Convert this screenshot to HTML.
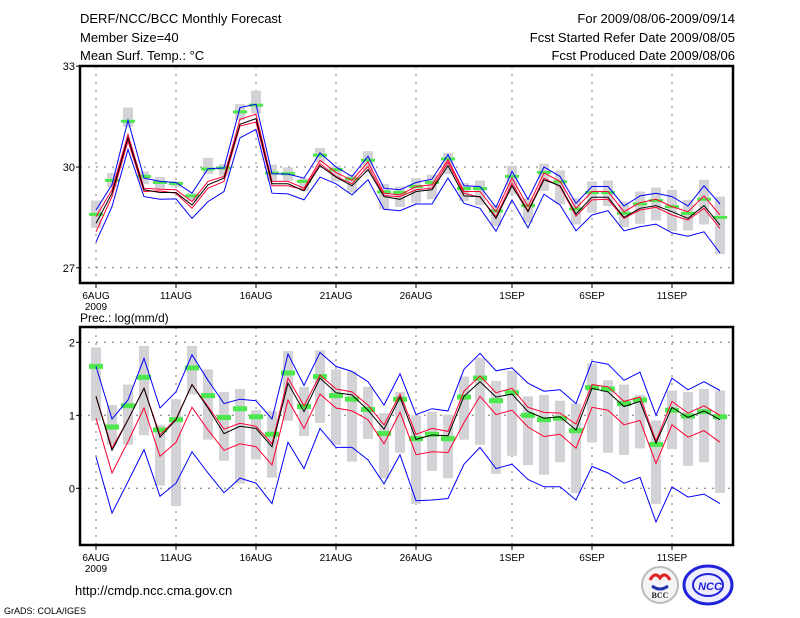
<!DOCTYPE html>
<html><head><meta charset="utf-8"><style>
body{margin:0;background:#fff;}
svg{display:block;font-family:"Liberation Sans",sans-serif;}
</style></head><body>
<svg id="chart" width="800" height="618" viewBox="0 0 800 618" xmlns="http://www.w3.org/2000/svg">
<rect x="0" y="0" width="800" height="618" fill="#fff"/>
<g font-size="13" fill="#000">
<text x="80" y="23">DERF/NCC/BCC Monthly Forecast</text>
<text x="80" y="42">Member Size=40</text>
<text x="80" y="60">Mean Surf. Temp.: °C</text>
<text x="735" y="23" text-anchor="end">For 2009/08/06-2009/09/14</text>
<text x="735" y="42" text-anchor="end">Fcst Started Refer Date 2009/08/05</text>
<text x="735" y="60" text-anchor="end">Fcst Produced Date 2009/08/06</text>
<text x="80" y="322" font-size="12">Prec.: log(mm/d)</text>
<text x="75" y="595" font-size="13">http://cmdp.ncc.cma.gov.cn</text>
<text x="4" y="614" font-size="9">GrADS: COLA/IGES</text>
</g>
<g>
<circle cx="660" cy="585" r="18" fill="#f4f4f4" stroke="#bbb" stroke-width="2"/>
<path d="M650 580 q5 -9 10 -2 q5 -7 10 2" fill="none" stroke="#d22" stroke-width="3"/>
<path d="M652 586 q8 6 16 0" fill="none" stroke="#23a" stroke-width="3"/>
<text x="660" y="598" font-size="8" text-anchor="middle" font-family="Liberation Serif,serif" font-weight="bold" fill="#222">BCC</text>
</g>
<g>
<ellipse cx="708" cy="585" rx="24" ry="19" fill="#eef" stroke="#22d" stroke-width="3"/>
<ellipse cx="708" cy="585" rx="15" ry="11" fill="none" stroke="#22d" stroke-width="2"/>
<text x="710" y="590" font-size="11" text-anchor="middle" font-weight="bold" font-style="italic" fill="#22d">NCC</text>
</g>
<g id="plot"></g>
</svg>
<script>
// ---- data: 40 days, 6 Aug 2009 .. 14 Sep 2009 ----
const days = 40;
const xTickLabels = ["6AUG","11AUG","16AUG","21AUG","26AUG","1SEP","6SEP","11SEP"];
const xTickDays = [0,5,10,15,20,26,31,36];
const tempTicks = [27,30,33];
const precTicks = [0,1,2];

const tempMean = [28.32,29.22,30.87,29.32,29.24,29.24,28.87,29.47,29.67,31.27,31.44,29.50,29.50,29.29,30.04,29.70,29.44,29.92,29.12,29.04,29.27,29.32,30.04,29.14,29.12,28.47,29.44,28.67,29.62,29.44,28.60,29.10,29.10,28.50,28.77,28.85,28.67,28.47,28.85,28.27];
const tempRedHi = [28.52,29.32,30.97,29.37,29.34,29.32,28.97,29.57,29.72,31.42,31.57,29.57,29.57,29.37,30.20,29.84,29.60,30.15,29.22,29.17,29.42,29.47,30.22,29.27,29.27,28.67,29.67,28.82,29.82,29.57,28.77,29.27,29.27,28.67,28.94,29.04,28.82,28.67,29.14,28.57];
const tempRedLo = [28.07,29.12,30.77,29.27,29.29,29.22,28.77,29.37,29.57,31.22,31.34,29.44,29.44,29.32,30.10,29.72,29.50,30.02,29.15,29.12,29.32,29.37,30.14,29.22,29.10,28.52,29.52,28.70,29.67,29.42,28.54,29.02,29.04,28.47,28.72,28.80,28.57,28.42,28.77,28.17];
const tempMax = [28.72,29.47,31.39,29.67,29.57,29.54,29.22,29.95,29.97,31.77,31.87,29.80,29.79,29.67,30.42,30.00,29.72,30.32,29.37,29.32,29.54,29.64,30.37,29.44,29.42,28.80,29.87,29.04,30.00,29.72,28.92,29.42,29.42,28.84,29.14,29.22,29.12,28.84,29.44,28.90];
const tempMin = [27.77,28.82,30.52,29.12,29.04,29.05,28.47,28.97,29.27,30.87,31.12,29.22,29.20,29.02,29.70,29.50,29.17,29.62,28.74,28.70,28.90,28.90,29.67,28.92,28.77,28.09,29.02,28.19,29.19,28.87,28.10,28.57,28.70,28.10,28.22,28.30,28.04,27.94,28.07,27.44];
const tempObs = [28.59,29.60,31.36,29.72,29.54,29.51,29.14,29.94,29.97,31.64,31.84,29.82,29.80,29.57,30.35,29.92,29.65,30.20,29.26,29.24,29.42,29.54,30.24,29.36,29.36,28.69,29.72,28.85,29.84,29.56,28.75,29.24,29.24,28.62,28.90,29.00,28.82,28.62,29.04,28.50];
const tempBarHi = [29.00,29.82,31.77,29.87,29.70,29.57,29.22,30.27,30.09,31.87,32.27,30.07,29.99,29.67,30.57,30.04,29.77,30.47,29.50,29.42,29.67,29.77,30.42,29.52,29.60,28.87,30.04,29.07,30.10,29.90,29.07,29.57,29.60,28.97,29.27,29.39,29.32,29.02,29.62,29.12];
const tempBarLo = [28.22,29.42,31.22,29.52,29.37,29.44,29.02,29.82,29.77,31.42,31.62,29.62,29.62,29.32,30.17,29.60,29.27,29.87,28.77,28.84,28.97,29.07,29.82,29.02,28.90,28.27,29.22,28.37,29.32,28.92,28.32,28.67,28.87,28.24,28.34,28.44,28.12,28.14,28.32,27.44];

const precMean = [1.26,0.52,0.94,1.37,0.70,0.94,1.42,1.10,0.75,0.85,0.82,0.57,1.44,1.05,1.51,1.31,1.28,1.07,0.81,1.25,0.67,0.73,0.72,1.26,1.46,1.25,1.29,1.05,0.96,0.98,0.80,1.37,1.32,1.12,1.19,0.62,1.11,0.97,1.06,0.94];
const precRedHi = [1.26,0.55,0.94,1.37,0.73,0.95,1.42,1.12,0.81,0.89,0.85,0.61,1.51,1.13,1.55,1.36,1.32,1.14,0.87,1.29,0.74,0.82,0.78,1.33,1.54,1.31,1.37,1.11,1.04,1.03,0.88,1.42,1.39,1.19,1.25,0.65,1.19,1.03,1.13,1.00];
const precRedLo = [0.96,0.21,0.64,1.10,0.44,0.63,1.11,0.80,0.52,0.61,0.57,0.32,1.21,0.82,1.29,1.10,1.06,0.94,0.61,1.04,0.46,0.50,0.49,0.90,1.26,1.01,1.07,0.84,0.71,0.74,0.55,1.11,1.07,0.87,0.93,0.34,0.87,0.70,0.79,0.63];
const precMax = [1.67,0.95,1.21,1.78,1.10,1.32,1.83,1.48,1.16,1.22,1.20,0.95,1.84,1.41,1.86,1.67,1.60,1.46,1.14,1.57,1.01,1.09,1.06,1.63,1.85,1.61,1.65,1.44,1.33,1.35,1.16,1.74,1.70,1.48,1.59,1.00,1.51,1.35,1.46,1.34];
const precMin = [0.43,-0.34,0.09,0.53,-0.11,0.07,0.50,0.21,-0.06,0.14,0.07,-0.21,0.63,0.27,0.82,0.56,0.56,0.39,0.06,0.46,-0.17,-0.16,-0.14,0.33,0.56,0.27,0.33,0.12,0.02,0.02,-0.16,0.30,0.21,0.07,0.15,-0.46,0.02,-0.12,-0.08,-0.21];
const precObs = [1.67,0.84,1.13,1.52,0.80,0.94,1.65,1.27,0.97,1.09,0.98,0.74,1.58,1.12,1.53,1.27,1.22,1.08,0.75,1.22,0.68,0.74,0.68,1.25,1.51,1.20,1.31,1.00,0.94,0.96,0.79,1.38,1.36,1.16,1.21,0.60,1.07,0.99,1.05,0.98];
const precBarHi = [1.93,1.14,1.42,1.95,0.87,1.22,1.95,1.63,1.32,1.36,1.07,1.06,1.88,1.39,1.89,1.63,1.60,1.39,1.03,1.32,1.00,1.05,1.01,1.53,1.79,1.47,1.61,1.26,1.28,1.20,1.16,1.71,1.48,1.42,1.28,0.93,1.34,1.32,1.36,1.34];
const precBarLo = [0.94,0.61,0.61,0.74,0.05,-0.23,1.30,0.68,0.39,0.08,0.41,0.16,0.94,0.73,0.91,0.61,0.38,0.69,0.15,0.50,-0.20,0.25,0.15,0.68,0.61,0.21,0.46,0.33,0.20,0.37,-0.05,0.64,0.50,0.47,0.56,-0.20,0.55,0.32,0.37,-0.05];

// ---- axes ----
const X0 = 96, DX = 16;
function xDay(d){ return X0 + d*DX; }
const FRAME_L = 80, FRAME_R = 733;
const topPanel = {y0:66, y1:283, v0:30, py0:167, k:33.6};
const botPanel = {y0:327, y1:545, v0:0, py0:488.3, k:73.0};
function yT(v){ return topPanel.py0 - (v-topPanel.v0)*topPanel.k; }
function yP(v){ return botPanel.py0 - (v-botPanel.v0)*botPanel.k; }

const NS = "http://www.w3.org/2000/svg";
const plot = document.getElementById("plot");
function mk(tag, attrs, parent){
  const e = document.createElementNS(NS, tag);
  for (const k in attrs) e.setAttribute(k, attrs[k]);
  (parent||plot).appendChild(e);
  return e;
}

function drawPanel(P, yf, ticks, pfx, mean, rHi, rLo, mx, mn, obs, bHi, bLo, obsH){
  const g = mk("g", {});
  
  
  for (let i=0;i<ticks.length;i++){
    const y = yf(ticks[i]);
    const gl = mk("line", {x1:FRAME_L, x2:FRAME_R, y1:y, y2:y, stroke:"#777", "stroke-width":1, "stroke-dasharray":"2,6"}, g);
    
    
    const tl = mk("text", {x:FRAME_L-5, y:y+4, "font-size":11, "text-anchor":"end"}, g);
    
    
    tl.textContent = ticks[i];
    const tk = mk("line", {x1:FRAME_L-4, x2:FRAME_L, y1:y, y2:y, stroke:"#000"}, g);
    
    
  }
  for (let i=0;i<xTickDays.length;i++){
    const x = xDay(xTickDays[i]);
    const vl = mk("line", {x1:x, x2:x, y1:P.y0, y2:P.y1, stroke:"#777", "stroke-width":1, "stroke-dasharray":"2,6"}, g);
    
    
    const tk = mk("line", {x1:x, x2:x, y1:P.y1, y2:P.y1+5, stroke:"#000"}, g);
    
    
    const tl = mk("text", {x:x, y:P.y1+16, "font-size":10, "text-anchor":"middle"}, g);
    
    
    tl.textContent = xTickLabels[i];
  }
  const yr = mk("text", {x:xDay(0), y:P.y1+27, "font-size":10, "text-anchor":"middle"}, g);
  
  
  yr.textContent = "2009";
  for (let d=0; d<days; d++){
    const a = yf(bHi[d]), b = yf(bLo[d]);
    const r = mk("rect", {x:xDay(d)-5, y:Math.min(a,b), width:10, height:Math.abs(b-a)+1, fill:"#d3d3d7"}, g);
    
    
  }
  for (let d=0; d<days; d++){
    const y = yf(obs[d]);
    const r = mk("rect", {x:xDay(d)-7, y:y-obsH/2, width:14, height:obsH, fill:"#4de84d"}, g);
    
    
  }
  function line(arr, color, name){
    let pts = [];
    for (let d=0; d<days; d++) pts.push(xDay(d)+","+yf(arr[d]).toFixed(1));
    const pl = mk("polyline", {points:pts.join(" "), fill:"none", stroke:color, "stroke-width":1}, g);
    
    
  }
  line(mx, "#0000ff", pfx + '-max-line');
  line(mn, "#0000ff", pfx + '-min-line');
  line(rHi, "#ff0033", pfx + '-upper-line');
  line(rLo, "#ff0033", pfx + '-lower-line');
  line(mean, "#000", pfx + '-mean-line');
  const fr = mk("rect", {x:FRAME_L, y:P.y0, width:FRAME_R-FRAME_L, height:P.y1-P.y0, fill:"none", stroke:"#000", "stroke-width":2.5}, g);
  
  
}

drawPanel(topPanel, yT, tempTicks, 'temperature', tempMean, tempRedHi, tempRedLo, tempMax, tempMin, tempObs, tempBarHi, tempBarLo, 3);
drawPanel(botPanel, yP, precTicks, 'precipitation', precMean, precRedHi, precRedLo, precMax, precMin, precObs, precBarHi, precBarLo, 5);
</script>
</body></html>
